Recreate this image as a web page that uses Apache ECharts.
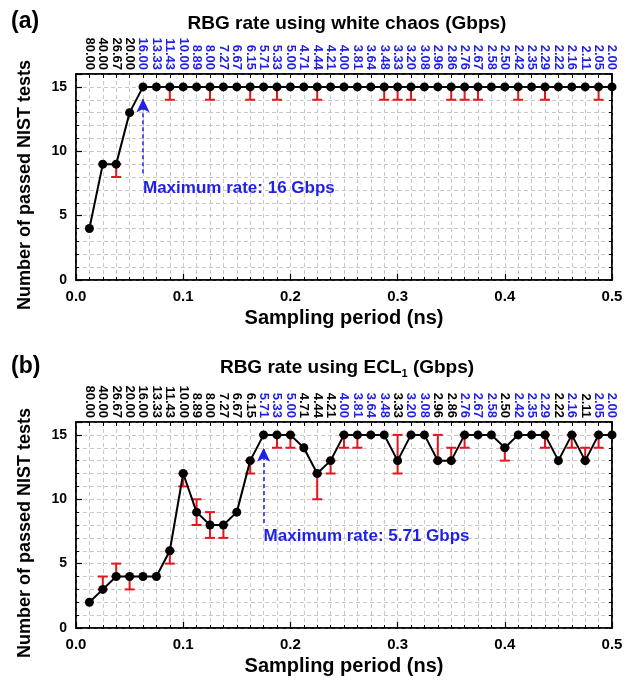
<!DOCTYPE html>
<html>
<head>
<meta charset="utf-8">
<script src="https://cdn.jsdelivr.net/npm/echarts@6/dist/echarts.min.js"></script>
<style>
  html, body { margin: 0; padding: 0; background: #fff; }
  #chart { width: 624px; height: 686px; }
</style>
</head>
<body>
<div id="chart"></div>
<script>
// 采样周期 (ns)，两图共用
var periods = [0.0125, 0.025, 0.0375, 0.05, 0.0625, 0.075, 0.0875, 0.1, 0.1125, 0.125,
    0.1375, 0.15, 0.1625, 0.175, 0.1875, 0.2, 0.2125, 0.225, 0.2375, 0.25,
    0.2625, 0.275, 0.2875, 0.3, 0.3125, 0.325, 0.3375, 0.35, 0.3625, 0.375,
    0.3875, 0.4, 0.4125, 0.425, 0.4375, 0.45, 0.4625, 0.475, 0.4875, 0.5];

// 顶部速率标签 (Gbps)
var rateLabels = ['80.00', '40.00', '26.67', '20.00', '16.00', '13.33', '11.43', '10.00', '8.89', '8.00',
    '7.27', '6.67', '6.15', '5.71', '5.33', '5.00', '4.71', '4.44', '4.21', '4.00',
    '3.81', '3.64', '3.48', '3.33', '3.20', '3.08', '2.96', '2.86', '2.76', '2.67',
    '2.58', '2.50', '2.42', '2.35', '2.29', '2.22', '2.16', '2.11', '2.05', '2.00'];

// (a) white chaos
var passedA = [4, 9, 9, 13, 15, 15, 15, 15, 15, 15,
    15, 15, 15, 15, 15, 15, 15, 15, 15, 15,
    15, 15, 15, 15, 15, 15, 15, 15, 15, 15,
    15, 15, 15, 15, 15, 15, 15, 15, 15, 15];
var errLowA = [null, null, 8, null, null, null, 14, null, null, 14,
    null, null, 14, null, 14, null, null, 14, null, null,
    null, null, 14, 14, 14, null, null, 14, 14, 14,
    null, null, 14, null, 14, null, null, null, 14, null];
var errHighA = [null, null, 9, null, null, null, 15, null, null, 15,
    null, null, 15, null, 15, null, null, 15, null, null,
    null, null, 15, 15, 15, null, null, 15, 15, 15,
    null, null, 15, null, 15, null, null, null, 15, null];

// (b) ECL1
var passedB = [2, 3, 4, 4, 4, 4, 6, 12, 9, 8,
    8, 9, 13, 15, 15, 15, 14, 12, 13, 15,
    15, 15, 15, 13, 15, 15, 13, 13, 15, 15,
    15, 14, 15, 15, 15, 13, 15, 13, 15, 15];
var errLowB = [null, 3, 4, 3, null, null, 5, 11, 8, 7,
    7, null, 12, null, 14, 14, null, 10, 12, 14,
    14, null, null, 12, null, null, 13, 13, 14, null,
    null, 13, null, null, 14, null, 14, 13, 14, null];
var errHighB = [null, 4, 5, 4, null, null, 6, 12, 10, 9,
    8, null, 13, null, 15, 15, null, 12, 13, 15,
    15, null, null, 15, null, null, 15, 14, 15, null,
    null, 14, null, null, 15, null, 15, 14, 15, null];

// 最大速率箭头
var maxA = { x: 0.0625, from: 8.3, to: 14.1, textY: 7.15, text: 'Maximum rate: 16 Gbps' };
var maxB = { x: 0.175, from: 8.15, to: 14.0, textY: 7.15, text: 'Maximum rate: 5.71 Gbps' };

var BLUE = '#1f1fe8', RED = '#e8141c', GRIDC = '#c8c8c8';
var FONT = 'Liberation Sans, Arial, sans-serif';

function pts(vals) {
    return periods.map(function(p, i) { return [p, vals[i]]; });
}
function errs(lo, hi) {
    var out = [];
    periods.forEach(function(p, i) {
        if (lo[i] != null) out.push([p, lo[i], hi[i]]);
    });
    return out;
}

function renderErr(params, api) {
    var a = api.coord([api.value(0), api.value(1)]);
    var b = api.coord([api.value(0), api.value(2)]);
    var w = 5;
    var st = { stroke: RED, lineWidth: 2 };
    return {
        type: 'group',
        children: [
            { type: 'line', shape: { x1: a[0], y1: a[1], x2: b[0], y2: b[1] }, style: st },
            { type: 'line', shape: { x1: a[0] - w, y1: a[1], x2: a[0] + w, y2: a[1] }, style: st },
            { type: 'line', shape: { x1: b[0] - w, y1: b[1], x2: b[0] + w, y2: b[1] }, style: st }
        ]
    };
}

function bottomAxis(g) {
    return {
        type: 'value', gridIndex: g, position: 'bottom', min: 0, max: 0.5, interval: 0.1,
        axisLine: { show: true, onZero: false, lineStyle: { color: '#000', width: 1.5 } },
        axisTick: { inside: true, length: 6, lineStyle: { color: '#000', width: 1.2 } },
        minorTick: { show: true, splitNumber: 8, length: 3, lineStyle: { color: '#000' } },
        splitLine: { show: true, lineStyle: { color: GRIDC, type: [4, 3] } },
        minorSplitLine: { show: true, lineStyle: { color: GRIDC, type: [4, 3] } },
        axisLabel: {
            color: '#000', fontWeight: 'bold', fontSize: 15, fontFamily: FONT, margin: 9,
            formatter: function(v) { return v.toFixed(1); }
        },
        name: 'Sampling period (ns)', nameLocation: 'middle', nameGap: 28,
        nameTextStyle: { color: '#000', fontWeight: 'bold', fontSize: 20, fontFamily: FONT }
    };
}

function topAxis(g, vals) {
    return {
        type: 'value', gridIndex: g, position: 'top', min: 0, max: 0.5, interval: 0.0125,
        axisLine: { show: true, onZero: false, lineStyle: { color: '#000', width: 1.5 } },
        axisTick: { inside: true, length: 4, lineStyle: { color: '#000' } },
        splitLine: { show: false },
        axisLabel: {
            rotate: 90, margin: 4, showMinLabel: false, showMaxLabel: true,
            formatter: function(v) {
                var k = Math.round(v * 80);
                if (k < 1) return '';
                var tag = vals[k - 1] === 15 ? 'b' : 'k';
                return '{' + tag + '|' + rateLabels[k - 1] + '}';
            },
            rich: {
                k: { color: '#000', fontWeight: 'bold', fontSize: 13, fontFamily: FONT },
                b: { color: BLUE, fontWeight: 'bold', fontSize: 13, fontFamily: FONT }
            }
        }
    };
}

function minorY(g) {
    return {
        type: 'value', gridIndex: g, position: 'left', offset: 0, min: 0, max: 16, interval: 1,
        axisLine: { show: true, onZero: false, lineStyle: { color: '#000', width: 1.5 } },
        axisTick: { inside: true, length: 3, lineStyle: { color: '#000' } },
        axisLabel: { show: false },
        splitLine: { show: true, lineStyle: { color: GRIDC, type: [4, 3] } }
    };
}

function majorY(g) {
    return {
        type: 'value', gridIndex: g, position: 'left', offset: 0, min: 0, max: 16, interval: 5,
        axisLine: { show: false, onZero: false },
        axisTick: { inside: true, length: 6, lineStyle: { color: '#000', width: 1.2 } },
        splitLine: { show: false },
        axisLabel: {
            color: '#000', fontWeight: 'bold', fontSize: 14, fontFamily: FONT, margin: 9,
            formatter: function(v) { return v % 5 === 0 ? String(v) : ''; }
        },
        name: 'Number of passed NIST tests', nameLocation: 'middle', nameGap: 42,
        nameTextStyle: { color: '#000', fontWeight: 'bold', fontSize: 18, fontFamily: FONT, padding: [0, 16, 0, 0] }
    };
}

function rightY(g) {
    return {
        type: 'value', gridIndex: g, position: 'right', offset: 0, min: 0, max: 16, interval: 1,
        axisLine: { show: true, onZero: false, lineStyle: { color: '#000', width: 1.5 } },
        axisTick: { inside: true, length: 3, lineStyle: { color: '#000' } },
        axisLabel: { show: false },
        splitLine: { show: false }
    };
}

function panelSeries(xi, yi, vals, lo, hi, mx) {
    return [
        {
            type: 'custom', xAxisIndex: xi, yAxisIndex: yi, z: 2,
            renderItem: renderErr,
            encode: { x: 0, y: [1, 2] },
            data: errs(lo, hi)
        },
        {
            type: 'line', xAxisIndex: xi, yAxisIndex: yi, z: 3,
            data: pts(vals),
            symbol: 'circle', symbolSize: 9,
            itemStyle: { color: '#000' },
            lineStyle: { color: '#000', width: 2 },
            markLine: {
                silent: true, symbol: ['none', 'arrow'], symbolSize: [10, 14],
                label: { show: false },
                lineStyle: { color: BLUE, type: [4, 3], width: 1.5 },
                data: [[{ coord: [mx.x, mx.from] }, { coord: [mx.x, mx.to] }]]
            },
            markPoint: {
                silent: true, symbol: 'circle', symbolSize: 0,
                label: {
                    show: true, position: 'right', distance: 0,
                    color: BLUE, fontWeight: 'bold', fontSize: 17, fontFamily: FONT,
                    formatter: mx.text
                },
                data: [{ coord: [mx.x, mx.textY] }]
            }
        }
    ];
}

var chart = echarts.init(document.getElementById('chart'), null, { renderer: 'canvas' });

var option = {
    backgroundColor: '#fff',
    animation: false,
    title: [
        { text: '(a)', left: 6, top: 5, textStyle: { color: '#000', fontWeight: 'bold', fontSize: 23, fontFamily: FONT } },
        { text: 'RBG rate using white chaos (Gbps)', left: 342, top: 9, textAlign: 'center',
          textStyle: { color: '#000', fontWeight: 'bold', fontSize: 19, fontFamily: FONT } },
        { text: '(b)', left: 6, top: 350, textStyle: { color: '#000', fontWeight: 'bold', fontSize: 23, fontFamily: FONT } },
        { text: 'RBG rate using ECL{s|1} (Gbps)', left: 342, top: 352, textAlign: 'center',
          textStyle: {
              color: '#000', fontWeight: 'bold', fontSize: 19, fontFamily: FONT,
              rich: { s: { color: '#000', fontWeight: 'bold', fontSize: 11, fontFamily: FONT, padding: [11, 0, 0, 0] } }
          } }
    ],
    grid: [
        { left: 76, top: 74, width: 536, height: 206, outerBoundsMode: 'none',
          show: true, borderColor: '#000', borderWidth: 1.5 },
        { left: 76, top: 422, width: 536, height: 206, outerBoundsMode: 'none',
          show: true, borderColor: '#000', borderWidth: 1.5 }
    ],
    xAxis: [bottomAxis(0), topAxis(0, passedA), bottomAxis(1), topAxis(1, passedB)],
    yAxis: [minorY(0), majorY(0), rightY(0), minorY(1), majorY(1), rightY(1)],
    series: panelSeries(0, 0, passedA, errLowA, errHighA, maxA)
        .concat(panelSeries(2, 3, passedB, errLowB, errHighB, maxB))
};

chart.setOption(option);
window.onresize = function() { chart.resize(); };
</script>
</body>
</html>
